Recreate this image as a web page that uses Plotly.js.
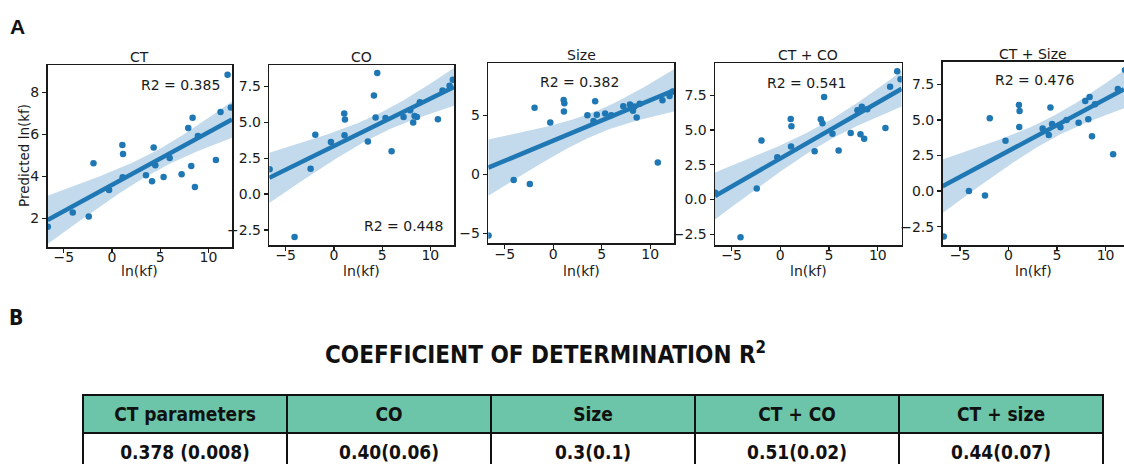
<!DOCTYPE html>
<html>
<head>
<meta charset="utf-8">
<script src="https://cdn.plot.ly/plotly-3.0.1.min.js"></script>
<style>
  html, body { margin: 0; padding: 0; background: #fff; }
  #chart { width: 1124px; height: 474px; }
</style>
</head>
<body>
<div id="chart"></div>
<script>
// ---------------- DATA ----------------
const lnKf = [-6.67, -4.08, -2.42, -1.93, -0.31, 1.07, 1.10, 1.14, 3.52, 4.15, 4.32, 4.49,
              5.35, 5.98, 7.22, 7.91, 8.22, 8.36, 8.60, 8.91, 10.78, 11.26, 11.99, 12.33];
const predCT     = [1.60, 2.27, 2.08, 4.62, 3.35, 5.49, 3.95, 5.06, 4.05, 3.76, 5.37, 4.52,
                    3.97, 4.87, 4.10, 6.30, 4.49, 6.79, 3.49, 5.92, 4.78, 7.06, 8.84, 7.27];
const predCO     = [1.73, -3.00, 1.76, 4.13, 3.64, 5.62, 4.10, 5.20, 3.66, 6.87, 5.34, 8.45,
                    5.31, 2.99, 5.38, 5.85, 4.99, 5.45, 5.38, 6.40, 5.22, 7.22, 7.55, 7.97];
const predSize   = [-5.18, -0.48, -0.82, 5.63, 4.37, 6.28, 5.30, 6.00, 4.99, 4.51, 6.17, 5.04,
                    5.13, 5.00, 5.75, 5.89, 5.38, 5.72, 4.79, 5.97, 0.99, 6.25, 6.62, 6.99];
const predCTCO   = [0.48, -2.72, 0.79, 4.24, 3.04, 5.80, 3.81, 5.27, 3.47, 5.77, 5.49, 7.38,
                    4.74, 3.52, 4.79, 6.42, 4.69, 6.68, 4.38, 6.50, 5.15, 8.12, 9.23, 8.65];
const predCTSize = [-3.20, 0.00, -0.32, 5.11, 3.54, 6.05, 4.50, 5.63, 4.39, 3.94, 5.88, 4.71,
                    4.48, 5.00, 4.80, 6.33, 5.04, 6.61, 3.85, 6.10, 2.58, 7.17, 8.50, 7.50];

const panelTitles = ['CT', 'CO', 'Size', 'CT + CO', 'CT + Size'];
const r2Labels = ['R2 = 0.385', 'R2 = 0.448', 'R2 = 0.382', 'R2 = 0.541', 'R2 = 0.476'];
const xTitle = 'ln(kf)';
const yTitle = 'Predicted ln(kf)';
const tableHeaders = ['CT parameters', 'CO', 'Size', 'CT + CO', 'CT + size'];
const tableValues = ['0.378 (0.008)', '0.40(0.06)', '0.3(0.1)', '0.51(0.02)', '0.44(0.07)'];

// ---------------- LAYOUT CONFIG ----------------
const W = 1124, H = 474;
const series = [predCT, predCO, predSize, predCTCO, predCTSize];
// pixel boxes [left, right, top, bottom]
const boxes = [
  [47.5, 232, 65, 247],
  [269.3, 454, 65, 245],
  [488.3, 674, 63.3, 243.3],
  [715, 901.7, 63.3, 245],
  [942.5, 1124, 61.7, 245]
];
const xRanges = [[-6.7, 12.45], [-6.7, 12.45], [-6.7, 12.45], [-6.7, 12.45], [-6.8, 11.9]];
const yRanges = [[0.63, 9.3], [-3.55, 9.0], [-5.83, 9.38], [-3.27, 9.8], [-3.79, 9.09]];
const yDticks = [2, 2.5, 5, 2.5, 2.5];
const yFormats = ['', '.1f', '', '.1f', '.1f'];
const r2Pos = [[180, 85], [403, 226], [579, 81.7], [806, 83.3], [1034.5, 80]];
const titleY = [57, 57, 55.3, 55.3, 53.7];

const BLUE = '#1f77b4';
const TXT = '#1a1a1a';
const FONT = 'DejaVu Sans, Liberation Sans, sans-serif';
const BOLDCOND = '"Liberation Sans Narrow", "DejaVu Sans Condensed", "Open Sans", sans-serif';

function regression(x, y, xr) {
  const n = x.length;
  const xm = x.reduce((a, b) => a + b, 0) / n;
  const ym = y.reduce((a, b) => a + b, 0) / n;
  let sxx = 0, sxy = 0;
  for (let i = 0; i < n; i++) { sxx += (x[i] - xm) ** 2; sxy += (x[i] - xm) * (y[i] - ym); }
  const b = sxy / sxx, a = ym - b * xm;
  let sse = 0;
  for (let i = 0; i < n; i++) sse += (y[i] - a - b * x[i]) ** 2;
  const s = Math.sqrt(sse / (n - 2));
  const t = 2.074;
  const gx = [], gy = [], up = [], lo = [];
  const steps = 80;
  for (let k = 0; k <= steps; k++) {
    const xv = xr[0] + (xr[1] - xr[0]) * k / steps;
    const yv = a + b * xv;
    const se = s * Math.sqrt(1 / n + (xv - xm) ** 2 / sxx);
    gx.push(xv); gy.push(yv); up.push(yv + t * se); lo.push(yv - t * se);
  }
  return { gx, gy, up, lo };
}

const data = [];
const layout = {
  width: W, height: H,
  margin: { l: 0, r: 0, t: 0, b: 0 },
  paper_bgcolor: '#fff', plot_bgcolor: '#fff',
  showlegend: false,
  font: { family: FONT, size: 14, color: TXT },
  annotations: []
};

series.forEach((ys, i) => {
  const k = i === 0 ? '' : String(i + 1);
  const xa = 'x' + k, ya = 'y' + k;
  const reg = regression(lnKf, ys, xRanges[i]);
  data.push({
    type: 'scatter', mode: 'markers', x: lnKf, y: ys, xaxis: xa, yaxis: ya,
    marker: { color: BLUE, size: 6.5 }, hoverinfo: 'x+y'
  });
  data.push({
    type: 'scatter', mode: 'lines', xaxis: xa, yaxis: ya,
    x: reg.gx.concat(reg.gx.slice().reverse()),
    y: reg.up.concat(reg.lo.slice().reverse()),
    fill: 'toself', fillcolor: 'rgba(31,119,180,0.27)', line: { width: 0 }, hoverinfo: 'skip'
  });
  data.push({
    type: 'scatter', mode: 'lines', x: reg.gx, y: reg.gy, xaxis: xa, yaxis: ya,
    line: { color: BLUE, width: 4.5 }, hoverinfo: 'skip'
  });
  const bx = boxes[i];
  const axCommon = {
    showline: true, linecolor: TXT, linewidth: 1.5,
    ticks: 'outside', ticklen: 4, tickwidth: 1.2, tickcolor: TXT,
    showgrid: false, zeroline: false,
    tickfont: { family: FONT, size: 14, color: TXT }
  };
  layout['xaxis' + k] = Object.assign({}, axCommon, {
    mirror: true, ticklabelstandoff: -7,
    domain: [bx[0] / W, bx[1] / W], anchor: ya, range: xRanges[i],
    tick0: 0, dtick: 5
  });
  layout['yaxis' + k] = Object.assign({}, axCommon, {
    mirror: i < 4,
    domain: [1 - bx[3] / H, 1 - bx[2] / H], anchor: xa, range: yRanges[i],
    tick0: 0, dtick: yDticks[i], tickformat: yFormats[i]
  });
  // subplot title
  layout.annotations.push({
    xref: 'paper', yref: 'paper', x: (bx[0] + bx[1]) / 2 / W, y: 1 - titleY[i] / H,
    xanchor: 'center', yanchor: 'middle', text: panelTitles[i], showarrow: false,
    font: { family: FONT, size: 14, color: TXT }
  });
  // x axis title
  layout.annotations.push({
    xref: 'paper', yref: 'paper', x: (bx[0] + bx[1]) / 2 / W, y: 1 - 271 / H,
    xanchor: 'center', yanchor: 'middle', text: xTitle, showarrow: false,
    font: { family: FONT, size: 14, color: TXT }
  });
  // R2 label
  layout.annotations.push({
    xref: 'paper', yref: 'paper', x: r2Pos[i][0] / W, y: 1 - r2Pos[i][1] / H,
    xanchor: 'center', yanchor: 'middle', text: r2Labels[i], showarrow: false,
    font: { family: FONT, size: 14, color: TXT }
  });
});

// y axis title (first panel only)
layout.annotations.push({
  xref: 'paper', yref: 'paper', x: 24 / W, y: 1 - 156 / H,
  xanchor: 'center', yanchor: 'middle', textangle: -90, text: yTitle, showarrow: false,
  font: { family: FONT, size: 13.5, color: TXT }
});

// panel letters and title
layout.annotations.push({
  xref: 'paper', yref: 'paper', x: 17 / W, y: 1 - 27 / H, xanchor: 'center', yanchor: 'middle',
  text: '<b>A</b>', showarrow: false, font: { family: 'Liberation Sans, Arial, sans-serif', size: 21, color: '#111' }
});
layout.annotations.push({
  xref: 'paper', yref: 'paper', x: 16 / W, y: 1 - 318 / H, xanchor: 'center', yanchor: 'middle',
  text: '<b>B</b>', showarrow: false, font: { family: BOLDCOND, size: 21, color: '#111' }
});
layout.annotations.push({
  xref: 'paper', yref: 'paper', x: 545 / W, y: 1 - 353 / H, xanchor: 'center', yanchor: 'middle',
  text: '<b>COEFFICIENT OF DETERMINATION R<sup>2</sup></b>', showarrow: false,
  font: { family: BOLDCOND, size: 24, color: '#111' }
});

// table
data.push({
  type: 'table',
  domain: { x: [83 / W, 1103 / W], y: [1 - 464 / H, 1 - 395 / H] },
  columnwidth: [1, 1, 1, 1, 1],
  header: {
    values: tableHeaders.map(h => '<b>' + h + '</b>'),
    fill: { color: '#6cc5a8' },
    line: { color: '#111', width: 2 },
    align: 'center', height: 33,
    font: { family: BOLDCOND, size: 19, color: '#111' }
  },
  cells: {
    values: tableValues.map(v => ['<b>' + v + '</b>']),
    fill: { color: '#fff' },
    line: { color: '#111', width: 2 },
    align: 'center', height: 34,
    font: { family: BOLDCOND, size: 19, color: '#111' }
  }
});

Plotly.newPlot('chart', data, layout, { displayModeBar: false, staticPlot: true });
</script>
</body>
</html>
